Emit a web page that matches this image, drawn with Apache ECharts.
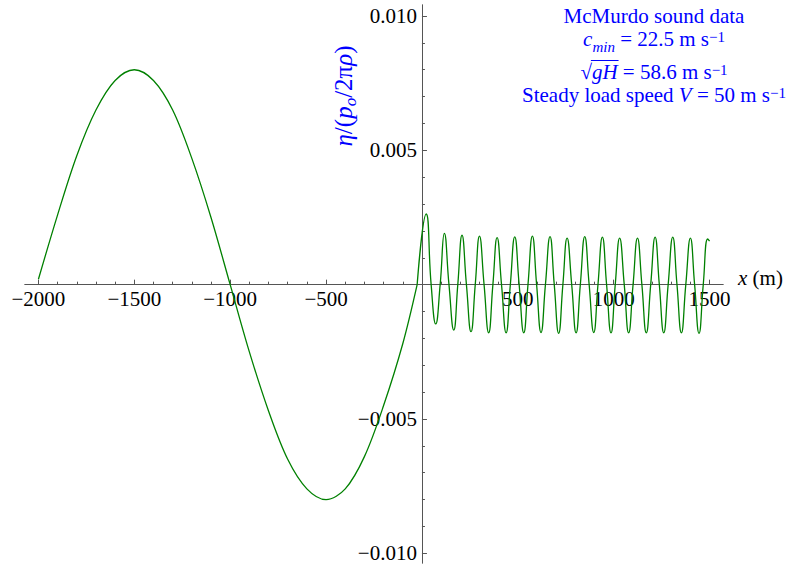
<!DOCTYPE html>
<html>
<head>
<meta charset="utf-8">
<script src="https://cdn.jsdelivr.net/npm/echarts@6/dist/echarts.min.js"></script>
<style>
  html, body { margin: 0; padding: 0; background: #ffffff; }
  #chart { width: 786px; height: 566px; }
</style>
</head>
<body>
<div id="chart"></div>
<script>
// Along-track position x (m) and normalised surface displacement η/(p_o/2πρ)
const xPos = [
  -2000, -1900, -1800, -1700, -1600, -1500, -1400, -1300, -1200, -1100,
  -1000, -900, -800, -700, -600, -500, -400, -300, -200, -100, -25,
  22, 48, 72, 95, 117, 141, 166, 187, 209, 232, 256, 278, 300, 324, 348,
  370, 392, 415, 439, 461, 484, 507, 531, 553, 576, 598, 621, 644, 668,
  690, 713, 735, 757, 781, 804, 826, 849, 872, 896, 918, 941, 963, 986,
  1008, 1031, 1055, 1078, 1101, 1124, 1147, 1170, 1193, 1216, 1238, 1261,
  1284, 1308, 1330, 1353, 1376, 1400, 1422, 1445, 1467, 1490, 1500
];
const eta = [
  0.0002, 0.0026, 0.0048, 0.0065, 0.0076, 0.0080, 0.0076, 0.0065, 0.0047, 0.0025,
  0.0000, -0.0025, -0.0047, -0.0065, -0.0076, -0.0080, -0.0076, -0.0064, -0.0045, -0.0022, 0.0000,
  0.00263, 0, -0.00146, 0, 0.00191, 0, -0.00169, 0, 0.00184, 0, -0.00175, 0, 0.00181, 0, -0.00179,
  0, 0.00175, 0, -0.00179, 0, 0.00178, 0, -0.00179, 0, 0.00181, 0, -0.00178, 0, 0.00179,
  0, -0.00181, 0, 0.00173, 0, -0.00179, 0, 0.00179, 0, -0.00178, 0, 0.00177, 0, -0.00179,
  0, 0.00173, 0, -0.00179, 0, 0.00173, 0, -0.00179, 0, 0.00177, 0, -0.00179,
  0, 0.00177, 0, -0.00179, 0, 0.00173, 0, -0.00181, 0, 0.00170, 0.00162
];
// The long upstream wave ends where the short downstream ripples begin (x = -25 m)
const splitIndex = 20;

// Tick marks and their labels
const xMajorTicks = [-2000, -1500, -1000, -500, 500, 1000, 1500];
const xMajorLabels = ['\u22122000', '\u22121500', '\u22121000', '\u2212500', '500', '1000', '1500'];
const xMinorTicks = [
  -1900, -1800, -1700, -1600, -1400, -1300, -1200, -1100, -900, -800, -700, -600,
  -400, -300, -200, -100, 100, 200, 300, 400, 600, 700, 800, 900,
  1100, 1200, 1300, 1400
];
const yMajorTicks = [-0.010, -0.005, 0.005, 0.010];
const yMajorLabels = ['\u22120.010', '\u22120.005', '0.005', '0.010'];
const yMinorTicks = [
  -0.009, -0.008, -0.007, -0.006, -0.004, -0.003, -0.002, -0.001,
  0.001, 0.002, 0.003, 0.004, 0.006, 0.007, 0.008, 0.009
];

// Annotation lines
const titleLine = 'McMurdo sound data';
const cminText = ' = 22.5 m s';
const sqrtText = ' = 58.6 m s';
const speedLead = 'Steady load speed ';
const speedText = ' = 50 m s';

const FONT = 'Liberation Serif, Times New Roman, Times, serif';
const BLUE = '#0000ff';
const AXIS = '#555555';
const X_MIN = -2070, X_MAX = 1570;
const Y_MIN = -0.01036, Y_MAX = 0.01041;

const chart = echarts.init(document.getElementById('chart'), null, {
  renderer: 'svg', width: 786, height: 566
});

function labelFor(ticks, labels) {
  return function (v) {
    let best = 0;
    for (let i = 1; i < ticks.length; i++) {
      if (Math.abs(ticks[i] - v) < Math.abs(ticks[best] - v)) best = i;
    }
    return '{t|' + labels[best] + '}';
  };
}
const tickRich = { t: { fontFamily: FONT, fontSize: 21, color: '#000000' } };

function valueAxis(extra) {
  return Object.assign({
    type: 'value',
    scale: false,
    splitLine: { show: false },
    axisLine: { show: true, onZero: false, lineStyle: { color: AXIS, width: 1 } }
  }, extra);
}

// Text measurement for placing the radical's overline
const measureCtx = document.createElement('canvas').getContext('2d');
function textWidth(str, size, italic) {
  measureCtx.font = (italic ? 'italic ' : '') + size + 'px ' + FONT;
  return measureCtx.measureText(str).width;
}

const MAIN = 21, SMALL = 15;
const rich = {
  r: { fontFamily: FONT, fontSize: MAIN, fill: BLUE, lineHeight: 20 },
  i: { fontFamily: FONT, fontSize: MAIN, fontStyle: 'italic', fill: BLUE, lineHeight: 20 },
  sub: { fontFamily: FONT, fontSize: SMALL, fontStyle: 'italic', fill: BLUE, lineHeight: 15, padding: [16, 0, 0, 0] },
  sup: { fontFamily: FONT, fontSize: SMALL, fill: BLUE, lineHeight: 15, padding: [0, 0, 4, 0] }
};
const labelRich = {
  r: { fontFamily: FONT, fontSize: 25, fill: BLUE, lineHeight: 24 },
  i: { fontFamily: FONT, fontSize: 25, fontStyle: 'italic', fill: BLUE, lineHeight: 24 },
  sub: { fontFamily: FONT, fontSize: 17, fontStyle: 'italic', fill: BLUE, lineHeight: 17, padding: [14, 0, 0, 0] }
};
const axisRich = {
  r: { fontFamily: FONT, fontSize: MAIN, fill: '#000000', lineHeight: 22 },
  i: { fontFamily: FONT, fontSize: MAIN, fontStyle: 'italic', fill: '#000000', lineHeight: 22 }
};

const CX = 654;
// Line 3: √gH with an overline across gH
const wRad = textWidth('\u221A', MAIN, false);
const wGH = textWidth('gH', MAIN, true);
const wRest = textWidth(sqrtText, MAIN, false);
const wSup = textWidth('\u22121', SMALL, false);
const line3Start = CX - (wRad + wGH + wRest + wSup) / 2;
const line3Y = 71.5;

const lineStyle = { color: '#008000', width: 1.3 };

const option = {
  animation: false,
  backgroundColor: '#ffffff',
  grid: { left: 25, right: 63, top: 5, bottom: 3, containLabel: false, outerBoundsMode: 'none' },
  xAxis: [
    valueAxis({
      min: X_MIN, max: X_MAX, position: 'bottom',
      axisTick: { show: true, inside: true, length: 5, customValues: xMajorTicks, lineStyle: { color: AXIS, width: 1 } },
      axisLabel: {
        show: true, customValues: xMajorTicks, formatter: labelFor(xMajorTicks, xMajorLabels),
        rich: tickRich, fontFamily: FONT, fontSize: 21, color: '#000000', margin: 4
      }
    }),
    valueAxis({
      min: X_MIN, max: X_MAX, position: 'bottom',
      axisTick: { show: true, inside: true, length: 3, customValues: xMinorTicks, lineStyle: { color: AXIS, width: 1 } },
      axisLabel: { show: false }
    })
  ],
  yAxis: [
    valueAxis({
      min: Y_MIN, max: Y_MAX, position: 'left',
      axisTick: { show: true, inside: true, length: 5, customValues: yMajorTicks, lineStyle: { color: AXIS, width: 1 } },
      axisLabel: {
        show: true, customValues: yMajorTicks, formatter: labelFor(yMajorTicks, yMajorLabels),
        rich: tickRich, fontFamily: FONT, fontSize: 21, color: '#000000', margin: 5
      }
    }),
    valueAxis({
      min: Y_MIN, max: Y_MAX, position: 'left',
      axisTick: { show: true, inside: true, length: 3, customValues: yMinorTicks, lineStyle: { color: AXIS, width: 1 } },
      axisLabel: { show: false }
    })
  ],
  series: [
    {
      type: 'line', xAxisIndex: 0, yAxisIndex: 0,
      data: xPos.slice(0, splitIndex + 1).map((x, k) => [x, eta[k]]),
      showSymbol: false, smooth: 0.34, lineStyle: lineStyle, silent: true
    },
    {
      type: 'line', xAxisIndex: 0, yAxisIndex: 0,
      data: xPos.slice(splitIndex).map((x, k) => [x, eta[k + splitIndex]]),
      showSymbol: false, smooth: 0.5, lineStyle: lineStyle, silent: true
    }
  ],
  graphic: [
    {
      type: 'text', x: 738, y: 278,
      style: { text: '{i|x}{r| (m)}', rich: axisRich, align: 'left', verticalAlign: 'middle' }
    },
    {
      type: 'text', x: 343, y: 96, rotation: Math.PI / 2,
      style: {
        text: '{i|\u03B7}{r|/(}{i|p}{sub|o}{r|/2\u03C0}{i|\u03C1}{r|)}',
        rich: labelRich, align: 'center', verticalAlign: 'middle'
      }
    },
    {
      type: 'text', x: CX, y: 15.5,
      style: { text: '{r|' + titleLine + '}', rich: rich, align: 'center', verticalAlign: 'middle' }
    },
    {
      type: 'text', x: CX, y: 39,
      style: { text: '{i|c}{sub|min}{r|' + cminText + '}{sup|\u22121}', rich: rich, align: 'center', verticalAlign: 'middle' }
    },
    {
      type: 'text', x: CX, y: line3Y,
      style: { text: '{r|\u221A}{i|gH}{r|' + sqrtText + '}{sup|\u22121}', rich: rich, align: 'center', verticalAlign: 'middle' }
    },
    {
      type: 'line',
      shape: { x1: line3Start + wRad - 1, y1: line3Y - 11, x2: line3Start + wRad + wGH + 1, y2: line3Y - 11 },
      style: { stroke: BLUE, lineWidth: 1 }
    },
    {
      type: 'text', x: CX, y: 95,
      style: { text: '{r|' + speedLead + '}{i|V}{r|' + speedText + '}{sup|\u22121}', rich: rich, align: 'center', verticalAlign: 'middle' }
    }
  ]
};

chart.setOption(option);

// Move both axis pairs so they cross at the data origin
const origin = chart.convertToPixel({ gridIndex: 0 }, [0, 0]);
const corner = chart.convertToPixel({ gridIndex: 0 }, [X_MIN, Y_MIN]);
const xOffset = -(corner[1] - origin[1]);
const yOffset = -(origin[0] - corner[0]);
chart.setOption({
  xAxis: [{ offset: xOffset }, { offset: xOffset }],
  yAxis: [{ offset: yOffset }, { offset: yOffset }]
});
</script>
</body>
</html>
